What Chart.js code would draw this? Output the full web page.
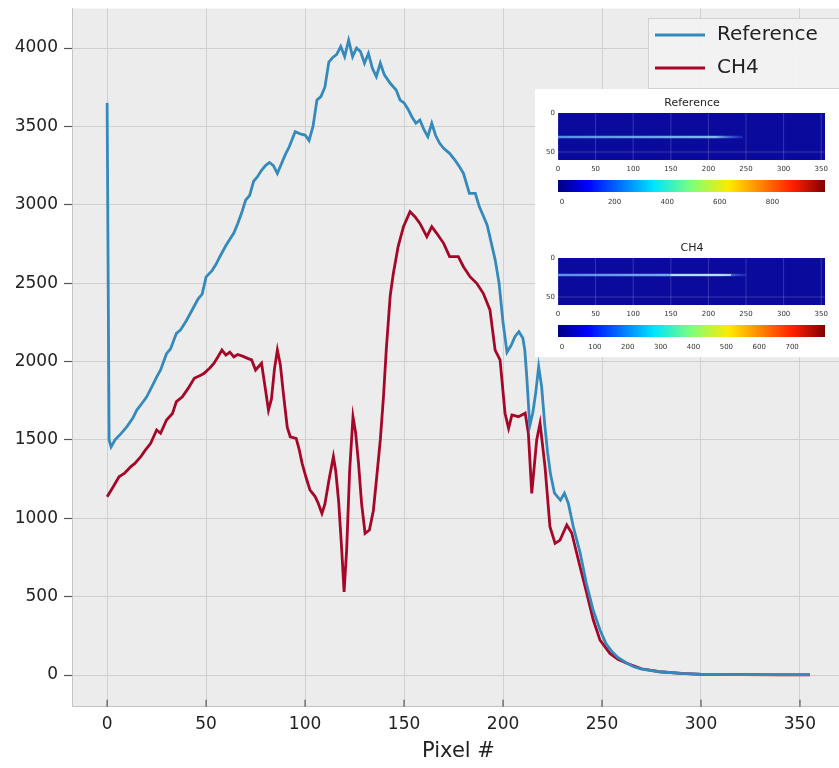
<!DOCTYPE html>
<html>
<head>
<meta charset="utf-8">
<script src="https://cdn.jsdelivr.net/npm/chart.js@4.4.0/dist/chart.umd.min.js"></script>
<style>
  html, body { margin: 0; padding: 0; background: #fff; overflow: hidden; }
  #wrap { width: 850px; height: 768px; }
  canvas { width: 850px; height: 768px; }
</style>
</head>
<body>
<div id="wrap"><canvas id="spectrum" width="850" height="768"></canvas></div>
<script>
// values
const pixelRef = [0, 1, 2, 4, 7, 10, 13, 15, 18, 20, 23, 25, 27, 30, 32, 35, 37, 40, 43, 46, 48, 50,
    53, 55, 57, 60, 62, 64, 66, 68, 70, 72, 74, 76, 78, 80, 82, 84, 86, 88, 90, 92, 95, 98, 100,
    102, 104, 106, 108, 110, 112, 114, 116, 118, 120, 122, 124, 126, 128, 130, 132, 134, 136, 138,
    140, 143, 146, 148, 150, 152, 154, 156, 158, 160, 162, 164, 166, 168, 170, 173, 176, 178, 180,
    183, 186, 188, 190, 192, 194, 196, 198, 200, 202, 204, 206, 208, 210, 211, 212, 213.5, 215,
    216.5, 218, 219.5, 221, 222.5, 224, 226, 228, 229, 231, 233, 235.5, 239, 242, 245.5, 249, 252,
    255, 258, 262, 266, 270, 279, 290, 300, 320, 340, 355];
const refValues = [3650, 1500, 1455, 1500, 1540, 1585, 1640, 1690, 1740, 1775, 1850, 1900, 1946, 2050,
    2080, 2180, 2200, 2260, 2330, 2400, 2430, 2540, 2580, 2620, 2670, 2740, 2780, 2820, 2880, 2950,
    3030, 3060, 3150, 3180, 3220, 3250, 3270, 3250, 3200, 3260, 3320, 3370, 3466, 3450, 3445, 3410,
    3500, 3668, 3690, 3750, 3910, 3940, 3960, 4010, 3945, 4050, 3945, 4000, 3977, 3903, 3966, 3870,
    3817, 3903, 3830, 3775, 3732, 3668, 3650, 3610, 3560, 3520, 3541, 3480, 3434, 3520, 3440, 3392,
    3360, 3328, 3280, 3243, 3200, 3072, 3072, 2988, 2930, 2870, 2760, 2650, 2500, 2250, 2060, 2100,
    2158, 2190, 2150, 2073, 1900, 1590, 1670, 1800, 1967, 1840, 1607, 1420, 1280, 1160, 1130, 1116,
    1160, 1095, 946, 776, 590, 415, 287, 200, 150, 112, 80, 53, 38, 21, 10, 5, 3, 2, 2];

const pixelCh4 = [0, 3, 6, 9, 12, 14, 17, 19, 22, 25, 27, 30, 33, 35, 38, 41, 44, 47, 49, 52, 54, 56,
    58, 60, 62, 64, 66, 69, 71, 73, 75, 78, 80, 81.5, 83, 84.5, 86, 87.5, 89, 91, 92.5, 95.5, 97,
    98.5, 100.5, 102.5, 105, 106.5, 108.5, 110, 112, 114.3, 115.5, 117, 118.5, 119.7, 121, 122.5,
    124.2, 125.5, 127, 128.5, 130.3, 132.5, 134.5, 136.2, 138, 139.6, 141, 143, 144.6, 147, 149.7,
    153, 155.5, 158, 161.5, 164, 166.5, 170, 173, 177.4, 180, 183.3, 186.7, 190, 193.4, 196, 198.5,
    201, 202.8, 204.5, 207.8, 211.2, 212.8, 214.5, 217, 218.7, 221.2, 223.7, 226.3, 228.8, 232.2,
    234.7, 238.9, 242.3, 245.6, 249, 254, 258, 262.5, 270, 279, 290, 300, 320, 340, 355];
const ch4Values = [1137, 1200, 1265, 1290, 1330, 1350, 1393, 1430, 1478, 1563, 1542, 1627, 1669, 1744,
    1775, 1830, 1893, 1910, 1925, 1960, 1989, 2030, 2073, 2041, 2060, 2030, 2045, 2031, 2020, 2010,
    1946, 1989, 1820, 1690, 1760, 1950, 2073, 1980, 1800, 1580, 1520, 1510, 1440, 1350, 1260, 1180,
    1140, 1100, 1031, 1090, 1240, 1393, 1300, 1100, 800, 531, 800, 1300, 1648, 1550, 1350, 1100, 904,
    925, 1050, 1265, 1500, 1775, 2073, 2420, 2563, 2733, 2860, 2956, 2924, 2881, 2796, 2860, 2818,
    2754, 2669, 2669, 2605, 2541, 2499, 2435, 2329, 2073, 2010, 1670, 1574, 1659, 1648, 1670, 1542,
    1159, 1499, 1606, 1329, 946, 840, 861, 957, 906, 691, 521, 351, 223, 138, 100, 75, 40, 21, 10, 4,
    2, 1, 1];

const xTickValues = [0, 50, 100, 150, 200, 250, 300, 350];
const yTickValues = [0, 500, 1000, 1500, 2000, 2500, 3000, 3500, 4000];

// inset panels (small image plots with colour bars)
const insetTitles = ['Reference', 'CH4'];
const insetXTicks = [0, 50, 100, 150, 200, 250, 300, 350];
const insetYTicks = [0, 50];
const refBarTicks = [0, 200, 400, 600, 800];
const ch4BarTicks = [0, 100, 200, 300, 400, 500, 600, 700];

const toPoints = (xs, ys) => xs.map((x, i) => ({ x: x, y: ys[i] }));

const FONT = '"DejaVu Sans", sans-serif';

const plotBackground = {
    id: 'plotBackground',
    beforeDraw(chart) {
        const { ctx, chartArea: a } = chart;
        ctx.save();
        ctx.fillStyle = '#ffffff';
        ctx.fillRect(0, 0, chart.width, chart.height);
        ctx.fillStyle = '#ececec';
        ctx.fillRect(a.left, a.top, a.right - a.left, a.bottom - a.top);
        ctx.restore();
    }
};

function jetGradient(ctx, x0, x1) {
    const g = ctx.createLinearGradient(x0, 0, x1, 0);
    g.addColorStop(0, '#00007f');
    g.addColorStop(0.11, '#0000ff');
    g.addColorStop(0.36, '#00e5ff');
    g.addColorStop(0.5, '#7dff7a');
    g.addColorStop(0.64, '#ffea00');
    g.addColorStop(0.88, '#ff1e00');
    g.addColorStop(1, '#7f0000');
    return g;
}

function drawPanel(ctx, title, top, streakY, streakEnd, brightFrom, brightTo, barTicks, barMax) {
    const x0 = 558, x1 = 825;
    const ix = v => x0 + v * (x1 - x0) / 355;
    ctx.fillStyle = '#222';
    ctx.font = '11px ' + FONT;
    ctx.textAlign = 'center';
    ctx.textBaseline = 'middle';
    ctx.fillText(title, 692, top);

    // image
    ctx.fillStyle = '#0a0a9c';
    ctx.fillRect(x0, top + 10, x1 - x0, 47);
    ctx.strokeStyle = 'rgba(255,255,255,0.18)';
    ctx.lineWidth = 1;
    insetXTicks.forEach(v => {
        ctx.beginPath();
        ctx.moveTo(ix(v), top + 10);
        ctx.lineTo(ix(v), top + 57);
        ctx.stroke();
    });
    ctx.beginPath();
    ctx.moveTo(x0, top + 49);
    ctx.lineTo(x1, top + 49);
    ctx.stroke();

    const g = ctx.createLinearGradient(x0, 0, ix(streakEnd), 0);
    g.addColorStop(0, 'rgba(110,190,255,0.75)');
    g.addColorStop(0.85, 'rgba(150,215,255,0.85)');
    g.addColorStop(1, 'rgba(80,140,255,0.2)');
    ctx.strokeStyle = g;
    ctx.lineWidth = 2.5;
    ctx.beginPath();
    ctx.moveTo(x0, streakY);
    ctx.lineTo(ix(streakEnd), streakY);
    ctx.stroke();
    if (brightTo > brightFrom) {
        ctx.strokeStyle = 'rgba(200,230,255,0.8)';
        ctx.lineWidth = 2;
        ctx.beginPath();
        ctx.moveTo(ix(brightFrom), streakY);
        ctx.lineTo(ix(brightTo), streakY);
        ctx.stroke();
    }

    ctx.fillStyle = '#333';
    ctx.font = '7px ' + FONT;
    ctx.textAlign = 'right';
    insetYTicks.forEach(v => ctx.fillText(String(v), x0 - 3, top + 10 + v * 39 / 50));
    ctx.textAlign = 'center';
    insetXTicks.forEach(v => ctx.fillText(String(v), ix(v), top + 66));

    // colour bar
    ctx.fillStyle = jetGradient(ctx, x0, x1);
    ctx.fillRect(x0, top + 77, x1 - x0, 12);
    ctx.fillStyle = '#333';
    barTicks.forEach(v => ctx.fillText(String(v), x0 + 4 + v * (x1 - x0 - 4) / barMax, top + 99));
}

const insetPlugin = {
    id: 'insetPlugin',
    afterDatasetsDraw(chart) {
        const ctx = chart.ctx;
        ctx.save();
        ctx.fillStyle = '#ffffff';
        ctx.fillRect(535, 89, 320, 268);
        drawPanel(ctx, insetTitles[0], 103, 137, 246, 0, 0, refBarTicks, 1000);
        drawPanel(ctx, insetTitles[1], 248, 275, 250, 150, 230, ch4BarTicks, 800);
        ctx.restore();
    }
};

const legendPlugin = {
    id: 'legendPlugin',
    afterDraw(chart) {
        const ctx = chart.ctx;
        ctx.save();
        ctx.fillStyle = 'rgba(242,242,242,0.92)';
        ctx.strokeStyle = '#d2d2d2';
        ctx.lineWidth = 1;
        ctx.fillRect(648, 18, 210, 70);
        ctx.strokeRect(648.5, 18.5, 210, 70);
        chart.data.datasets.forEach((ds, i) => {
            const y = 35 + i * 33;
            ctx.strokeStyle = ds.borderColor;
            ctx.lineWidth = 3;
            ctx.beginPath();
            ctx.moveTo(655, y);
            ctx.lineTo(705, y);
            ctx.stroke();
            ctx.fillStyle = '#222';
            ctx.font = '20px ' + FONT;
            ctx.textAlign = 'left';
            ctx.textBaseline = 'middle';
            ctx.fillText(ds.label, 717, y);
        });

        // inward tick marks on the x axis
        const xs = chart.scales.x;
        const bottom = chart.chartArea.bottom;
        ctx.strokeStyle = '#555';
        ctx.lineWidth = 1.2;
        xs.ticks.forEach(t => {
            const px = xs.getPixelForValue(t.value);
            ctx.beginPath();
            ctx.moveTo(px, bottom);
            ctx.lineTo(px, bottom - 7);
            ctx.stroke();
        });
        ctx.restore();
    }
};

const noScalePadding = scale => {
    scale.paddingTop = 0;
    scale.paddingBottom = 0;
    scale.paddingLeft = 0;
    scale.paddingRight = 0;
};

const ctx = document.getElementById('spectrum').getContext('2d');
const spectrumChart = new Chart(ctx, {
    type: 'line',
    data: {
        datasets: [
            {
                label: 'Reference',
                data: toPoints(pixelRef, refValues),
                borderColor: '#348ABD',
                borderWidth: 2.8,
                pointRadius: 0,
                tension: 0
            },
            {
                label: 'CH4',
                data: toPoints(pixelCh4, ch4Values),
                borderColor: '#A60628',
                borderWidth: 2.8,
                pointRadius: 0,
                tension: 0
            }
        ]
    },
    options: {
        responsive: false,
        animation: false,
        devicePixelRatio: 1,
        layout: { padding: { top: 8.5, right: 5, left: 0, bottom: 0 } },
        plugins: {
            legend: { display: false },
            tooltip: { enabled: false }
        },
        scales: {
            x: {
                type: 'linear',
                min: -17.75,
                max: 372.75,
                afterBuildTicks: scale => { scale.ticks = xTickValues.map(v => ({ value: v })); },
                afterFit: scale => { scale.height = 61.3; noScalePadding(scale); },
                grid: { color: '#d0d0d0', lineWidth: 1, drawTicks: false },
                border: { display: true, color: '#c4c4c4' },
                ticks: {
                    padding: 8,
                    color: '#222',
                    font: { family: FONT, size: 17 },
                    maxRotation: 0,
                    callback: v => String(v)
                },
                title: {
                    display: true,
                    text: 'Pixel #',
                    color: '#222',
                    font: { family: FONT, size: 21 },
                    padding: { top: 0, bottom: 4 }
                }
            },
            y: {
                type: 'linear',
                min: -202,
                max: 4252,
                afterBuildTicks: scale => { scale.ticks = yTickValues.map(v => ({ value: v })); },
                afterFit: scale => { scale.width = 72; noScalePadding(scale); },
                grid: { color: '#d0d0d0', lineWidth: 1, tickLength: 8, tickColor: '#555', tickWidth: 1.2 },
                border: { display: true, color: '#c4c4c4' },
                ticks: {
                    padding: 6,
                    color: '#222',
                    font: { family: FONT, size: 17 },
                    callback: v => String(v)
                }
            }
        }
    },
    plugins: [plotBackground, insetPlugin, legendPlugin]
});
</script>
</body>
</html>
